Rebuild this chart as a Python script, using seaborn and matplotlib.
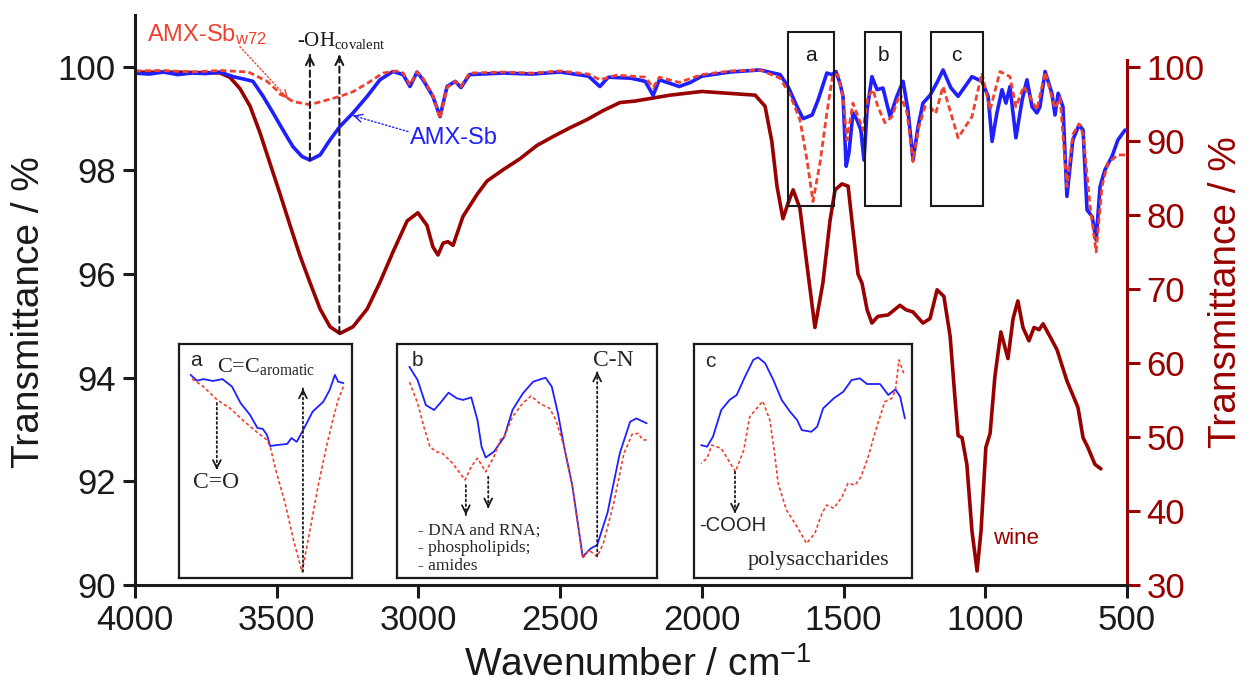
import matplotlib
matplotlib.use('Agg')
import numpy as np
import matplotlib.pyplot as plt
import seaborn as sns
from matplotlib.patches import Rectangle

# ---- main spectra (wavenumber / cm-1, transmittance / %) ----
wn_amx = [4000, 3950, 3900, 3850, 3800, 3750, 3700, 3654, 3605, 3584, 3548, 3513, 3478, 3443,
          3411, 3383, 3347, 3312, 3277, 3231, 3181, 3136, 3090, 3054, 3030, 3005, 2984, 2949,
          2924, 2899, 2870, 2850, 2820, 2700, 2600, 2500, 2400, 2360, 2330, 2250, 2200, 2172,
          2150, 2080, 2040, 2000, 1900, 1795, 1724, 1696, 1664, 1643, 1611, 1590, 1559, 1541,
          1527, 1513, 1502, 1491, 1481, 1467, 1453, 1439, 1428, 1417, 1400, 1382, 1361, 1336,
          1312, 1290, 1273, 1255, 1237, 1220, 1195, 1170, 1149, 1122, 1096, 1047, 1012, 990,
          976, 959, 941, 927, 913, 892, 870, 853, 835, 818, 807, 789, 765, 754, 743, 726, 712,
          691, 669, 655, 641, 623, 609, 595, 578, 553, 532, 507]
t_amx = [99.88, 99.86, 99.90, 99.85, 99.88, 99.87, 99.90, 99.81, 99.75, 99.72, 99.43, 99.11,
         98.78, 98.46, 98.27, 98.20, 98.30, 98.59, 98.85, 99.11, 99.43, 99.75, 99.91, 99.85,
         99.62, 99.90, 99.75, 99.43, 99.04, 99.62, 99.72, 99.60, 99.85, 99.88, 99.86, 99.90,
         99.82, 99.62, 99.80, 99.78, 99.72, 99.45, 99.75, 99.62, 99.70, 99.82, 99.90, 99.94,
         99.85, 99.62, 99.23, 99.00, 99.07, 99.36, 99.88, 99.85, 99.91, 99.69, 99.43, 98.08,
         98.34, 99.11, 98.98, 98.78, 98.20, 99.17, 99.81, 99.56, 99.59, 99.04, 99.43, 99.72,
         99.17, 98.20, 98.85, 99.30, 99.45, 99.70, 99.94, 99.60, 99.43, 99.81, 99.72, 99.43,
         98.56, 99.11, 99.56, 99.30, 99.62, 98.63, 99.36, 99.75, 99.23, 99.11, 99.23, 99.91,
         99.49, 99.07, 99.49, 99.23, 97.50, 98.59, 98.88, 98.78, 97.24, 97.11, 96.66, 97.69,
         98.01, 98.27, 98.59, 98.78]

wn_w72 = [4000, 3900, 3800, 3700, 3600, 3534, 3488, 3443, 3383, 3323, 3277, 3231, 3181, 3125,
          3076, 3054, 3030, 3005, 2984, 2949, 2924, 2899, 2870, 2850, 2820, 2700, 2600, 2500,
          2400, 2360, 2300, 2200, 2172, 2150, 2080, 2000, 1900, 1795, 1724, 1689, 1654, 1629,
          1608, 1583, 1559, 1538, 1520, 1502, 1488, 1467, 1449, 1431, 1414, 1396, 1379, 1354,
          1329, 1301, 1276, 1255, 1234, 1213, 1195, 1175, 1149, 1096, 1047, 1012, 983, 948,
          913, 892, 864, 843, 818, 789, 754, 736, 712, 691, 669, 655, 630, 609, 588, 567,
          532, 507]
t_w72 = [99.92, 99.93, 99.90, 99.93, 99.90, 99.72, 99.49, 99.33, 99.27, 99.36, 99.43, 99.52,
         99.68, 99.88, 99.92, 99.88, 99.65, 99.90, 99.78, 99.45, 99.00, 99.60, 99.72, 99.62,
         99.88, 99.90, 99.88, 99.92, 99.86, 99.75, 99.84, 99.80, 99.60, 99.80, 99.70, 99.85,
         99.92, 99.94, 99.78, 99.46, 98.98, 98.20, 97.40, 98.15, 99.11, 99.85, 99.85, 99.43,
         98.59, 99.30, 99.04, 98.78, 99.43, 99.56, 99.23, 98.92, 99.04, 99.49, 99.11, 98.17,
         98.85, 99.23, 99.23, 99.10, 99.62, 98.63, 99.04, 99.88, 99.17, 99.91, 99.81, 99.23,
         99.62, 99.43, 99.17, 99.90, 99.20, 99.40, 97.69, 98.70, 98.90, 98.70, 97.30, 96.43,
         97.70, 98.15, 98.30, 98.30]

wn_wine = [4000, 3850, 3700, 3665, 3630, 3594, 3559, 3524, 3488, 3453, 3418, 3383, 3347, 3312,
           3277, 3231, 3181, 3136, 3090, 3040, 3002, 2970, 2949, 2931, 2913, 2896, 2878, 2843,
           2793, 2758, 2702, 2642, 2582, 2525, 2465, 2405, 2349, 2289, 2236, 2112, 2000, 1925,
           1812, 1777, 1753, 1735, 1714, 1696, 1678, 1654, 1629, 1601, 1573, 1548, 1530, 1506,
           1484, 1467, 1449, 1435, 1417, 1400, 1379, 1343, 1301, 1280, 1255, 1220, 1195, 1170,
           1146, 1124, 1107, 1096, 1082, 1065, 1047, 1029, 1015, 998, 983, 966, 945, 920, 902,
           885, 867, 846, 828, 810, 796, 772, 747, 712, 673, 655, 638, 613, 592]
t_wine = [99.3, 99.3, 99.2, 98.6, 97.1, 94.7, 91.1, 87.0, 82.8, 78.6, 74.5, 70.9, 67.3, 64.9,
          64.0, 64.9, 67.3, 70.9, 75.0, 79.2, 80.3, 78.6, 75.7, 74.6, 76.2, 76.4, 75.9, 79.8,
          82.8, 84.6, 86.1, 87.6, 89.4, 90.6, 91.8, 92.9, 94.1, 95.2, 95.4, 96.2, 96.7, 96.5,
          96.2, 94.7, 89.9, 83.9, 79.5, 81.6, 83.4, 80.9, 73.2, 64.8, 70.8, 79.2, 83.4, 84.2,
          83.9, 78.0, 72.0, 70.8, 67.2, 65.4, 66.3, 66.5, 67.8, 67.2, 66.9, 65.4, 66.0, 69.9,
          69.0, 63.6, 55.3, 50.2, 49.9, 46.3, 37.3, 31.9, 37.3, 48.6, 50.5, 58.2, 64.2, 60.6,
          66.0, 68.4, 64.8, 63.0, 64.8, 64.5, 65.3, 63.6, 61.8, 57.6, 54.0, 49.9, 48.6, 46.3,
          45.7]

# zoom windows marked on the main plot
box_labels = ['a', 'b', 'c']
box_wn = [(1697, 1534), (1424, 1298), (1193, 1009)]
box_t = (97.32, 100.67)

# ---- insets (relative transmittance, a.u.) ----
a_wn_amx = [1686, 1680, 1674, 1665, 1656, 1647, 1639, 1630, 1623, 1618, 1614, 1611, 1605, 1595,
            1591, 1586, 1580, 1571, 1561, 1555, 1550, 1547, 1542]
a_t_amx = [86.8, 84.3, 85.0, 84.2, 85.0, 81.8, 74.8, 69.7, 64.1, 63.7, 61.1, 56.4, 56.8, 57.3,
           59.8, 58.2, 63.2, 71.1, 75.3, 80.3, 86.8, 83.9, 83.3]
a_wn_w72 = [1686, 1674, 1661, 1649, 1637, 1624, 1614, 1611, 1605, 1597, 1589, 1581, 1574, 1566,
            1558, 1552, 1547, 1542]
a_t_w72 = [85.5, 81.8, 76.1, 72.6, 67.5, 62.5, 59.0, 56.1, 44.9, 32.1, 16.2, 2.7, 19.2, 39.0,
           56.1, 67.5, 76.1, 81.8]

b_wn_amx = [1418, 1414, 1410, 1406, 1403, 1399, 1395, 1392, 1388, 1385, 1383, 1381, 1377, 1372,
            1368, 1363, 1358, 1352, 1349, 1346, 1343, 1339, 1334, 1330, 1327, 1322, 1316, 1311,
            1308, 1303]
b_t_amx = [90.3, 84.6, 73.9, 71.8, 74.8, 79.2, 76.8, 76.1, 77.2, 67.5, 56.1, 51.5, 54.0, 60.3,
           71.8, 78.9, 83.9, 85.6, 81.8, 70.4, 56.1, 39.4, 9.1, 12.7, 14.1, 27.8, 53.4, 66.8,
           68.2, 66.1]
b_wn_w72 = [1418, 1414, 1411, 1408, 1405, 1402, 1397, 1391, 1388, 1385, 1381, 1377, 1374, 1372,
            1368, 1363, 1359, 1355, 1350, 1347, 1343, 1339, 1334, 1331, 1327, 1324, 1319, 1314,
            1310, 1307, 1305, 1303]
b_t_w72 = [83.9, 74.7, 64.7, 56.1, 54.0, 53.3, 49.0, 41.9, 47.6, 51.2, 45.4, 51.8, 59.0, 60.4,
           68.9, 74.7, 77.8, 74.7, 72.5, 67.5, 56.1, 39.0, 8.4, 12.0, 9.1, 14.8, 31.9, 53.3,
           61.5, 61.8, 59.0, 59.0]

c_wn_amx = [1187, 1182, 1177, 1170, 1163, 1157, 1150, 1143, 1139, 1133, 1126, 1119, 1112, 1106,
            1102, 1094, 1089, 1084, 1075, 1067, 1060, 1053, 1047, 1036, 1029, 1023, 1019, 1015]
c_t_amx = [56.8, 56.1, 60.4, 71.8, 76.1, 78.2, 86.0, 93.2, 94.3, 91.8, 84.6, 76.1, 71.1, 67.5,
           63.2, 62.5, 64.7, 72.5, 76.8, 79.6, 84.6, 85.3, 82.9, 82.9, 78.2, 80.6, 77.5, 68.2]
c_wn_w72 = [1187, 1182, 1178, 1170, 1158, 1151, 1146, 1140, 1135, 1129, 1125, 1122, 1115, 1106,
            1098, 1091, 1085, 1081, 1075, 1068, 1063, 1057, 1052, 1046, 1040, 1032, 1026, 1023,
            1020, 1016]
c_t_w72 = [49.0, 51.2, 56.8, 55.4, 45.4, 54.7, 68.9, 72.5, 75.6, 67.5, 53.3, 40.5, 29.1, 21.9,
           14.8, 19.1, 27.6, 31.2, 29.8, 34.7, 40.5, 39.7, 43.3, 51.8, 62.5, 75.3, 76.8, 80.3,
           93.2, 87.5]

BLUE = '#1f1fff'
RED = '#f0412e'
WINE = '#990000'
SERIF = ['Liberation Serif', 'DejaVu Serif']

sns.set_theme(style='ticks')
plt.rcParams['font.family'] = ['Liberation Sans', 'DejaVu Sans']
plt.rcParams['mathtext.fontset'] = 'custom'
plt.rcParams['mathtext.rm'] = 'Liberation Serif'
plt.rcParams['mathtext.sf'] = 'Liberation Sans'
plt.rcParams['mathtext.it'] = 'Liberation Serif:italic'


def arrow(axis, tip, base, color, ls, lw, coords='data'):
    # dashed/dotted shaft, then a solid open head just at the tip
    axis.annotate('', xy=tip, xytext=base, xycoords=coords, textcoords=coords,
                  arrowprops=dict(arrowstyle='-', color=color, lw=lw, ls=ls,
                                  shrinkA=0, shrinkB=0))
    tr = axis.transData if coords == 'data' else axis.transAxes
    p_tip = tr.transform(tip)
    p_base = tr.transform(base)
    d = (p_base - p_tip) / np.hypot(*(p_base - p_tip))
    axis.annotate('', xy=tip, xycoords=coords, xytext=(d[0] * 3, d[1] * 3),
                  textcoords='offset pixels',
                  arrowprops=dict(arrowstyle='->', color=color, lw=lw, shrinkA=0, shrinkB=0,
                                  mutation_scale=14))


fig = plt.figure(figsize=(12.55, 6.92), dpi=100)
ax = fig.add_axes([0.1076, 0.1546, 0.7904, 0.8237])
ax2 = ax.twinx()
ax.set_zorder(ax2.get_zorder() + 1)
ax.patch.set_visible(False)

sns.lineplot(x=wn_wine, y=t_wine, ax=ax2, color=WINE, lw=2.6, estimator=None)
sns.lineplot(x=wn_amx, y=t_amx, ax=ax, color=BLUE, lw=2.6, estimator=None)
sns.lineplot(x=wn_w72, y=t_w72, ax=ax, color=RED, lw=2.0, linestyle=(0, (2.2, 1.2)),
             estimator=None)

ax.set_xlim(4000, 500)
ax.set_ylim(90, 101.0)
ax2.set_ylim(30, 107.03)
ax.set_xticks(list(range(4000, 499, -500)))
ax.set_yticks([90, 92, 94, 96, 98, 100])
ax2.set_yticks(list(range(30, 101, 10)))

for s in ['top', 'right']:
    ax.spines[s].set_visible(False)
for s in ['top', 'left', 'bottom']:
    ax2.spines[s].set_visible(False)
for s in ['left', 'bottom']:
    ax.spines[s].set_color('k')
    ax.spines[s].set_linewidth(2.2)
ax2.spines['right'].set_color(WINE)
ax2.spines['right'].set_linewidth(2.2)
ax2.spines['right'].set_bounds(30, 101)

ax.tick_params(axis='both', direction='out', length=9, width=2.2, labelsize=25,
               colors='k', pad=5)
ax2.tick_params(axis='y', direction='out', length=9, width=2.2, labelsize=25,
                colors=WINE, pad=5)

ax.set_xlabel('Wavenumber / cm$^{\\mathsf{-1}}$', fontsize=28, color='k')
ax.set_ylabel('Transmittance / %', fontsize=28, color='k')
ax2.set_ylabel('Transmittance / %', fontsize=28, color=WINE)
ax.xaxis.set_label_coords(0.507, -0.11)
ax.yaxis.set_label_coords(-0.089, 0.479)
ax2.yaxis.set_label_coords(1.082, 0.514)

# boxes a, b, c
for lab, (w_hi, w_lo) in zip(box_labels, box_wn):
    ax.add_patch(Rectangle((w_lo, box_t[0]), w_hi - w_lo, box_t[1] - box_t[0],
                           fill=False, ec='k', lw=1.5, zorder=4))
    ax.text((w_hi + w_lo) / 2, 100.22, lab, ha='center', va='center', fontsize=15, color='k')

# labels and arrows on the main plot
ax.text(3958, 100.62, 'AMX-Sb$_{\\mathsf{w72}}$', color=RED, fontsize=17, va='center')
arrow(ax, (3459, 99.38), (3630, 100.39), RED, ':', 1.0)
ax.text(3030, 98.63, 'AMX-Sb', color=BLUE, fontsize=17, va='center')
arrow(ax, (3231, 99.06), (3037, 98.75), BLUE, ':', 1.0)
ax.text(3428, 100.5, '-OH$_{\\mathrm{covalent}}$', family=SERIF, fontsize=15,
        color='k', va='center')
arrow(ax, (3383, 100.23), (3383, 98.2), 'k', (0, (3, 2)), 1.5)
arrow(ax, (3279, 100.23), (3279, 94.86), 'k', (0, (3, 2)), 1.5)
ax2.text(973, 36.3, 'wine', color=WINE, fontsize=16, va='center')


def inset(rect, xlim, wa, ta, wr, tr):
    ins = fig.add_axes(rect)
    ins.set_zorder(5)
    ins.set_facecolor('white')
    sns.lineplot(x=wa, y=ta, ax=ins, color=BLUE, lw=1.3, estimator=None)
    sns.lineplot(x=wr, y=tr, ax=ins, color=RED, lw=1.2, linestyle=(0, (2, 1.5)),
                 estimator=None)
    ins.set_xlim(*xlim)
    ins.set_ylim(0, 100)
    ins.set_xticks([])
    ins.set_yticks([])
    ins.set_xlabel('')
    ins.set_ylabel('')
    for s in ins.spines.values():
        s.set_visible(True)
        s.set_color('k')
        s.set_linewidth(1.6)
    return ins


ia = inset([0.1426, 0.1647, 0.1378, 0.3382], box_wn[0], a_wn_amx, a_t_amx, a_wn_w72, a_t_w72)
ib = inset([0.3163, 0.1647, 0.2072, 0.3382], box_wn[1], b_wn_amx, b_t_amx, b_wn_w72, b_t_w72)
ic = inset([0.5530, 0.1647, 0.1737, 0.3382], box_wn[2], c_wn_amx, c_t_amx, c_wn_w72, c_t_w72)

af = 'axes fraction'
ia.text(0.10, 0.93, 'a', transform=ia.transAxes, fontsize=15, ha='center', va='center')
ia.text(0.22, 0.905, 'C=C$_{\\mathrm{aromatic}}$', transform=ia.transAxes, family=SERIF,
        fontsize=16, ha='left', va='center')
ia.text(0.213, 0.41, 'C=O', transform=ia.transAxes, family=SERIF, fontsize=17,
        ha='center', va='center')
arrow(ia, (0.219, 0.462), (0.219, 0.748), 'k', ':', 1.3, af)
arrow(ia, (0.717, 0.81), (0.717, 0.027), 'k', ':', 1.3, af)

ib.text(0.08, 0.93, 'b', transform=ib.transAxes, fontsize=15, ha='center', va='center')
ib.text(0.831, 0.93, 'C-N', transform=ib.transAxes, family=SERIF, fontsize=17,
        ha='center', va='center')
arrow(ib, (0.770, 0.882), (0.770, 0.094), 'k', ':', 1.3, af)
arrow(ib, (0.265, 0.269), (0.265, 0.397), 'k', ':', 1.3, af)
arrow(ib, (0.351, 0.298), (0.351, 0.433), 'k', ':', 1.3, af)
ib.text(0.082, 0.128, '- DNA and RNA;\n- phospholipids;\n- amides', transform=ib.transAxes,
        family=SERIF, fontsize=12.5, ha='left', va='center', linespacing=1.15)

ic.text(0.073, 0.924, 'c', transform=ic.transAxes, fontsize=15, ha='center', va='center')
ic.text(0.179, 0.226, '-COOH', transform=ic.transAxes, fontsize=14.5, ha='center',
        va='center')
arrow(ic, (0.188, 0.276), (0.188, 0.454), 'k', ':', 1.3, af)
ic.text(0.569, 0.077, 'polysaccharides', transform=ic.transAxes, family=SERIF, fontsize=16,
        ha='center', va='center')

fig.savefig('out.png', dpi=100)
